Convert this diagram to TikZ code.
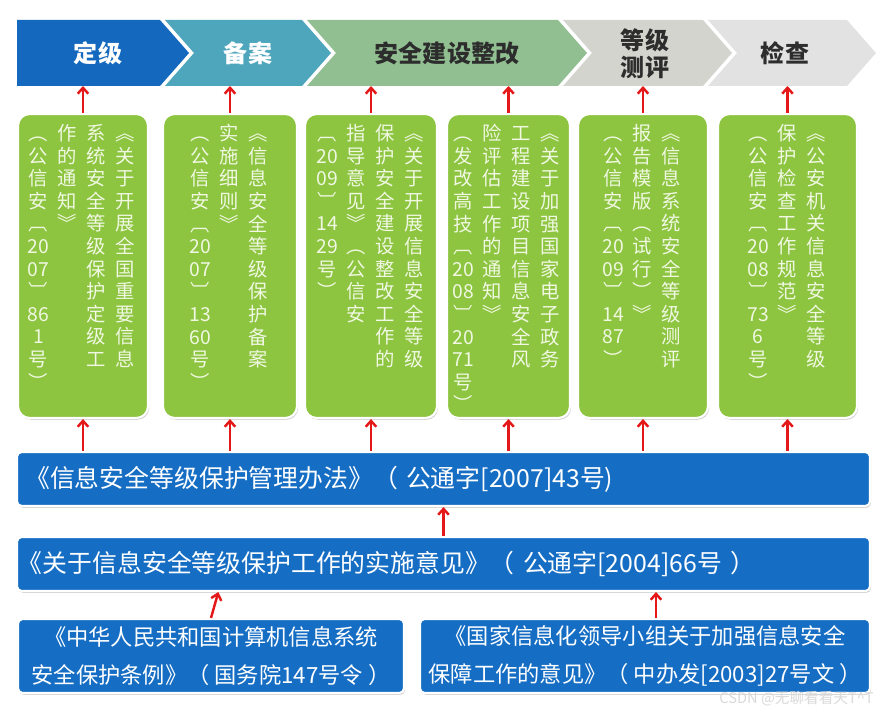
\documentclass[tikz,border=0pt]{standalone}
\usepackage{fontspec}
\setmainfont{Noto Sans CJK SC}
\usepackage{xcolor}
\usepackage{tikz}
\usetikzlibrary{arrows.meta,shadows}

\definecolor{phaseblue}{RGB}{20,104,190}
\definecolor{phaseteal}{RGB}{78,166,188}
\definecolor{phasesage}{RGB}{146,191,146}
\definecolor{phasegray}{RGB}{212,212,207}
\definecolor{phaselight}{RGB}{226,226,226}
\definecolor{textdark}{RGB}{45,45,45}
\definecolor{docgreen}{RGB}{141,196,64}
\definecolor{docpale}{RGB}{240,248,226}
\definecolor{lawblue}{RGB}{22,110,196}
\definecolor{linkred}{RGB}{228,24,24}

% one column of vertical text, one row per token
\def\vstackend{\relax}
\def\vstackloop#1{\ifx\vstackend#1\else#1\par\expandafter\vstackloop\fi}
\newcommand{\vcol}[1]{\parbox[t]{24.7pt}{\centering\vstackloop#1\vstackend}}

\begin{document}
\begin{tikzpicture}[x=0.03cm, y=-0.03cm,
    phase/.style={font=\fontsize{20.5}{23}\selectfont\bfseries, align=center, inner sep=0pt},
    doc/.style={rectangle, rounded corners=10pt, draw=white, line width=1.8pt, fill=docgreen, minimum height=9.12cm, drop shadow={opacity=0.35, shadow xshift=1pt, shadow yshift=-1.5pt}},
    doctext/.style={anchor=north, inner sep=0pt, text=docpale, font=\fontsize{16.5}{19.3}\selectfont},
    law/.style={rectangle, rounded corners=4pt, draw=white, line width=1.8pt, fill=lawblue, text=white, drop shadow={opacity=0.35, shadow xshift=1pt, shadow yshift=-1.5pt}},
    bar/.style={law, minimum width=25.59cm, minimum height=1.62cm, text width=25.09cm, inner xsep=0.25cm, align=left, font=\fontsize{21.2}{24}\selectfont},
    root/.style={law, minimum height=2.22cm, align=center, font=\fontsize{19}{33}\selectfont},
    arrow/.style={draw=linkred, line width=2.1pt, -{Straight Barb[length=5pt,width=9pt,line width=2.1pt]}}
]
    \useasboundingbox (0,0) rectangle (888,707);

    % phases
    \fill[phaseblue] (17,20) -- (160,20) -- (189,53) -- (160,86) -- (17,86) -- cycle;
    \fill[phaseteal] (165,20) -- (302,20) -- (331,53) -- (302,86) -- (165,86) -- (194,53) -- cycle;
    \fill[phasesage] (307,20) -- (558,20) -- (587,53) -- (558,86) -- (307,86) -- (336,53) -- cycle;
    \fill[phasegray] (563,20) -- (703,20) -- (732,53) -- (703,86) -- (563,86) -- (592,53) -- cycle;
    \fill[phaselight] (708,20) -- (847,20) -- (876,53) -- (847,86) -- (708,86) -- (737,53) -- cycle;
    \coordinate (chevbot) at (0,86);

    \node[phase, text=white] (dingji) at (98,53) {定级};
    \node[phase, text=white] (beian) at (248,53) {备案};
    \node[phase, text=textdark] (jianshe) at (447,53) {安全建设整改};
    \node[phase, text=textdark] (ceping) at (645,54) {等级\\测评};
    \node[phase, text=textdark] (jiancha) at (785,53) {检查};

    % documents per phase
    \node[doc, minimum width=3.9cm] (doc1) at (83,266) {};
    \node[doc, minimum width=4.02cm] (doc2) at (230,266) {};
    \node[doc, minimum width=3.96cm] (doc3) at (371,266) {};
    \node[doc, minimum width=3.69cm] (doc4) at (508.5,266) {};
    \node[doc, minimum width=3.9cm] (doc5) at (643,266) {};
    \node[doc, minimum width=4.17cm] (doc6) at (787.5,266) {};

    \node[doctext] (txt1) at (82,124) {\vcol{︵公信安︹{20}{07}︺{86}1号︶}\vcol{作的通知︾}\vcol{系统安全等级保护定级工}\vcol{︽关于开展全国重要信息}};
    \node[doctext] (txt2) at (229,124) {\vcol{︵公信安︹{20}{07}︺{13}{60}号︶}\vcol{实施细则︾}\vcol{︽信息安全等级保护备案}};
    \node[doctext] (txt3) at (371,124) {\vcol{︹{20}{09}︺{14}{29}号︶}\vcol{指导意见︾︵公信安}\vcol{保护安全建设整改工作的}\vcol{︽关于开展信息安全等级}};
    \node[doctext] (txt4) at (507,124) {\vcol{︵发改高技︹{20}{08}︺{20}{71}号︶}\vcol{险评估工作的通知︾}\vcol{工程建设项目信息安全风}\vcol{︽关于加强国家电子政务}};
    \node[doctext] (txt5) at (642,124) {\vcol{︵公信安︹{20}{09}︺{14}{87}︶}\vcol{报告模版︵试行︶︾}\vcol{︽信息系统安全等级测评}};
    \node[doctext] (txt6) at (787,124) {\vcol{︵公信安︹{20}{08}︺{73}6号︶}\vcol{保护检查工作规范︾}\vcol{︽公安机关信息安全等级}};

    % base documents
    \node[bar] (guanli) at (443.5,479) {《信息安全等级保护管理办法》（ 公通字[2007]43号)};
    \node[bar, inner xsep=0.03cm, text width=25.53cm] (yijian) at (443.5,564) {《关于信息安全等级保护工作的实施意见》（ 公通字[2004]66号 ）};
    \node[root, minimum width=11.58cm] (tiaoli) at (211,656) {《中华人民共和国计算机信息系统\\安全保护条例》（ 国务院147号令 ）};
    \node[root, minimum width=13.5cm] (zhongban) at (645,656) {《国家信息化领导小组关于加强信息安全\\保障工作的意见》（ 中办发[2003]27号文 ）};

    \node[font=\fontsize{12.5}{14}\selectfont, text=gray!30, anchor=east, inner sep=0pt] (mark) at (874,699) {CSDN @无聊看看天T\textasciicircum T};

    \draw[arrow] (doc1.north) -- (doc1.north |- chevbot);
    \draw[arrow] (doc2.north) -- (doc2.north |- chevbot);
    \draw[arrow] (doc3.north) -- (doc3.north |- chevbot);
    \draw[arrow] (doc4.north) -- (doc4.north |- chevbot);
    \draw[arrow] (doc5.north) -- (doc5.north |- chevbot);
    \draw[arrow] (doc6.north) -- (doc6.north |- chevbot);

    \draw[arrow] (guanli.north -| doc1.south) -- (doc1.south);
    \draw[arrow] (guanli.north -| doc2.south) -- (doc2.south);
    \draw[arrow] (guanli.north -| doc3.south) -- (doc3.south);
    \draw[arrow] (guanli.north -| doc4.south) -- (doc4.south);
    \draw[arrow] (guanli.north -| doc5.south) -- (doc5.south);
    \draw[arrow] (guanli.north -| doc6.south) -- (doc6.south);

    \draw[arrow] (yijian.north) -- (guanli.south);
    \draw[arrow] (tiaoli.north) -- ([xshift=0.22cm]tiaoli.north |- yijian.south);
    \draw[arrow] ([xshift=0.33cm]zhongban.north) -- ([xshift=0.33cm]zhongban.north |- yijian.south);
\end{tikzpicture}
\end{document}
